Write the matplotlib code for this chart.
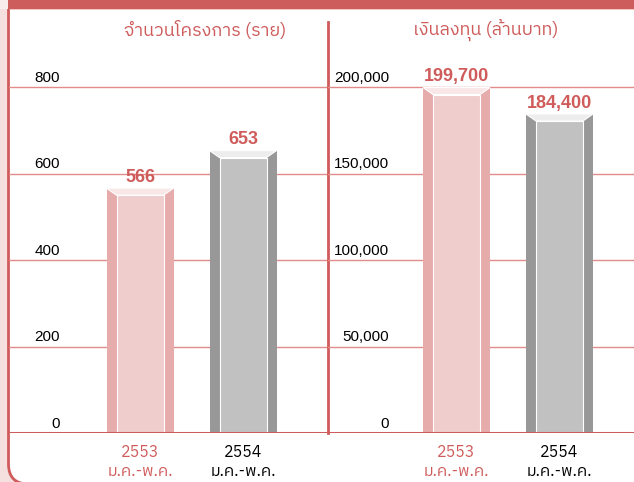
import matplotlib
matplotlib.use("Agg")
import matplotlib.pyplot as plt
from matplotlib import font_manager, ft2font
from matplotlib.patches import Rectangle, FancyBboxPatch, Polygon

# หา font ที่มีอักษรไทย
thai_font = None
cands = sorted(font_manager.fontManager.ttflist, key=lambda f: ("Sans" not in f.name, f.name))
for f in cands:
    try:
        cmap = ft2font.FT2Font(f.fname).get_charmap()
    except Exception:
        continue
    if 0x0E08 in cmap and 0x0E33 in cmap:
        thai_font = f.name
        break
fams = ([thai_font] if thai_font else []) + ["Liberation Sans", "DejaVu Sans"]
num_fams = ["Liberation Sans", "DejaVu Sans"]

# ข้อมูล
years = ["2553", "2554"]
period = "ม.ค.-พ.ค."
projects = [566, 653]
investment = [199700, 184400]
titles = ["จำนวนโครงการ (ราย)", "เงินลงทุน (ล้านบาท)"]
proj_ticks = [0, 200, 400, 600, 800]
inv_ticks = [0, 50000, 100000, 150000, 200000]

RED = "#cf5b5b"
GRID = "#e38b8b"
bar_styles = [
    {"side": "#e6abab", "face": "#f0cdcd", "top": "#f9e7e7"},
    {"side": "#989898", "face": "#c1c1c1", "top": "#ededed"},
]
label_colors = [RED, "black"]

W, H = 634, 482
fig = plt.figure(figsize=(W / 100, H / 100), dpi=100, facecolor="#f5dfdf")

# กรอบตกแต่ง (พิกัดพิกเซล)
deco = fig.add_axes([0, 0, 1, 1], zorder=-1)
deco.set_xlim(0, W)
deco.set_ylim(H, 0)
deco.axis("off")
deco.add_patch(FancyBboxPatch((8.5, -40), 700, 524, boxstyle="round,pad=0,rounding_size=20",
                              fc="white", ec=RED, lw=2))
deco.add_patch(Rectangle((7.5, 0), W, 8.5, color="#cd5c5c", lw=0))
deco.add_patch(Rectangle((9.5, 8.5), W, 1.2, color="#f3c6c6", lw=0))
deco.add_patch(Rectangle((0, 0), 7.5, 8.5, color="#f9ecec", lw=0))

base_px, top_px, grid_top_px = 433, 22, 87
centers_px = [(140, 243), (456.5, 559.5)]
panels_px = [(9, 328), (328, 634)]
unit_px = 103
outer_w = 67 / unit_px
inner_w = 47 / unit_px


def draw_panel(x0, x1, c, values, ticks, title, tick_x, title_x):
    ax = fig.add_axes([x0 / W, (H - base_px) / H, (x1 - x0) / W, (base_px - top_px) / H])
    ax.patch.set_alpha(0)
    ymax = ticks[-1] * (base_px - top_px) / (base_px - grid_top_px)
    ax.set_ylim(0, ymax)
    ax.set_xlim(-(c[0] - x0) / unit_px, 1 + (x1 - c[1]) / unit_px)
    for s in ax.spines.values():
        s.set_visible(False)
    ax.set_yticks([])

    for t in ticks[1:]:
        ax.axhline(t, color=GRID, lw=1, zorder=1)
    ax.axhline(0, color=RED, lw=2.2, zorder=5)
    for t in ticks:
        ax.annotate(f"{t:,}", (tick_x, t), xycoords=("axes fraction", "data"),
                    xytext=(0, 1.5), textcoords="offset points", ha="right", va="bottom",
                    fontsize=11, family=num_fams, color="black")

    bev = 7 * ymax / (base_px - top_px)
    for i, v in enumerate(values):
        st = bar_styles[i]
        ax.bar(i, v, width=outer_w, color=st["side"], lw=0, zorder=2)
        ax.bar(i, v - bev, width=inner_w, color=st["face"], edgecolor="white", lw=0.8, zorder=3)
        ax.add_patch(Polygon([(i - outer_w / 2, v), (i + outer_w / 2, v),
                              (i + inner_w / 2, v - bev), (i - inner_w / 2, v - bev)],
                             closed=True, fc=st["top"], ec="white", lw=0.8, zorder=3))
        ax.annotate(f"{v:,}", (i, v), xytext=(0, 1.5), textcoords="offset points",
                    ha="center", va="bottom", fontsize=13, fontweight="bold",
                    family=num_fams, color=RED, zorder=6)

    ax.set_xticks([0, 1], [f"{y}\n{period}" for y in years], family=fams, fontsize=11.5,
                  linespacing=1.2)
    ax.tick_params(axis="x", length=0, pad=8)
    for lbl, col in zip(ax.get_xticklabels(), label_colors):
        lbl.set_color(col)

    ax.text(title_x, (base_px - 30) / (base_px - top_px), title, transform=ax.transAxes,
            ha="center", va="center", fontsize=13, color=RED, family=fams)
    return ax


ax1 = draw_panel(*panels_px[0], centers_px[0], projects, proj_ticks, titles[0],
                 (60 - 9) / 319, (205 - 9) / 319)
ax1.spines["right"].set_visible(True)
ax1.spines["right"].set_color(RED)
ax1.spines["right"].set_linewidth(2)
ax2 = draw_panel(*panels_px[1], centers_px[1], investment, inv_ticks, titles[1],
                 (389 - 328) / 306, (486 - 328) / 306)

fig.savefig("out.png", dpi=100, facecolor=fig.get_facecolor())
